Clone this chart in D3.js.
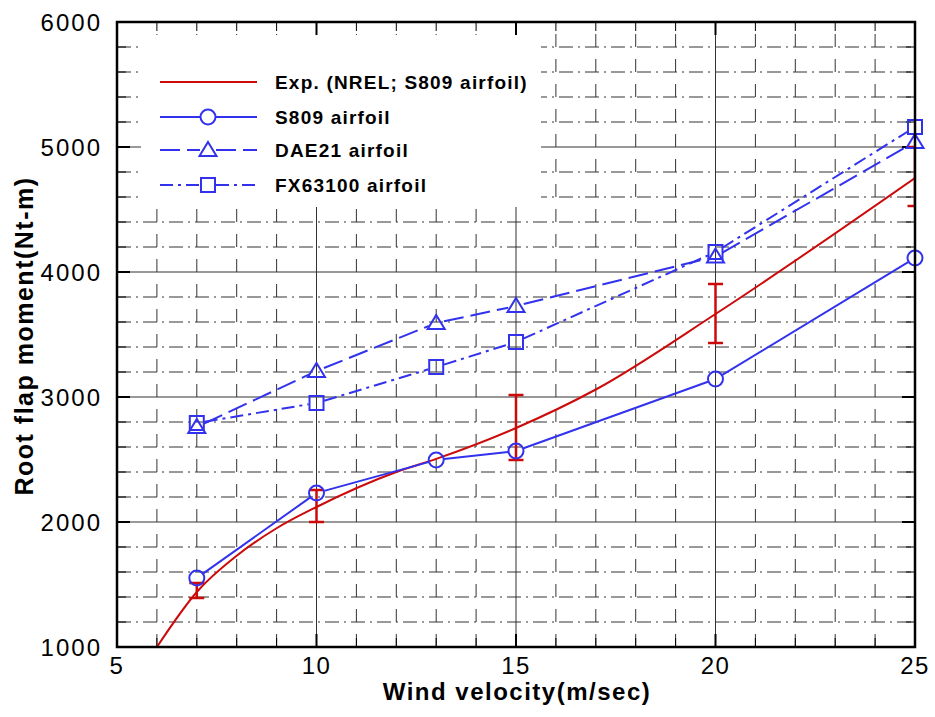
<!DOCTYPE html>
<html lang="en">

<head>
    <meta charset="UTF-8">
    <title>Root flap moment</title>
    <script src="https://d3js.org/d3.v7.min.js"></script>
    <style>
        body { margin: 0; background: #fff; }
        text { font-family: "Liberation Sans", Arial, sans-serif; }
    </style>
</head>

<body>
    <script>
        var width = 935, height = 717;

        // data
        var velocities = [7, 10, 13, 15, 20, 25];
        var s809 = [1552, 2232, 2496, 2568, 3144, 4112];
        var dae21 = [2760, 3208, 3592, 3728, 4124, 5040];
        var fx63100 = [2792, 2952, 3240, 3440, 4160, 5160];

        // experimental curve (NREL)
        var expV = [6, 7, 8, 9, 10, 12, 13, 15, 17, 20, 25];
        var expM = [1000, 1440, 1730, 1950, 2120, 2400, 2505, 2752, 3060, 3664, 4752];
        // error bars
        var errV = [7, 10, 15, 20, 25];
        var errLow = [1392, 2000, 2496, 3432, 4528];
        var errHigh = [1512, 2256, 3016, 3904, 5000];

        var xTicks = [5, 10, 15, 20, 25];
        var yTicks = [1000, 2000, 3000, 4000, 5000, 6000];

        var legendLabels = ['Exp. (NREL; S809 airfoil)', 'S809 airfoil', 'DAE21 airfoil', 'FX63100 airfoil'];

        var red = '#cc0a0a', blue = '#3232ee';
        var pL = 117, pT = 22, pR = 915, pB = 647;

        var svg = d3.select('body').append('svg').attr('width', width).attr('height', height);

        var x = d3.scaleLinear().domain([5, 25]).range([pL, pR]);
        var y = d3.scaleLinear().domain([1000, 6000]).range([pB, pT]);

        svg.append('clipPath').attr('id', 'plot')
            .append('rect').attr('x', pL).attr('y', pT).attr('width', pR - pL).attr('height', pB - pT);

        // grid: minor x every 1, minor y every 200
        var g = svg.append('g');
        var minorX = d3.range(6, 25).filter(function (d) { return d % 5 != 0 });
        var minorY = d3.range(1200, 6000, 200).filter(function (d) { return d % 1000 != 0 });
        g.selectAll('.mx').data(minorX).join('line')
            .attr('x1', x).attr('x2', x).attr('y1', pB).attr('y2', pT)
            .attr('stroke', '#333').attr('stroke-width', 1).attr('stroke-dasharray', '13,12');
        g.selectAll('.my').data(minorY).join('line')
            .attr('x1', pL).attr('x2', pR).attr('y1', y).attr('y2', y)
            .attr('stroke', '#333').attr('stroke-width', 1).attr('stroke-dasharray', '14,5,2,5');
        g.selectAll('.Mx').data([10, 15, 20]).join('line')
            .attr('x1', x).attr('x2', x).attr('y1', pB).attr('y2', pT)
            .attr('stroke', '#333').attr('stroke-width', 1);
        g.selectAll('.My').data([2000, 3000, 4000, 5000]).join('line')
            .attr('x1', pL).attr('x2', pR).attr('y1', y).attr('y2', y)
            .attr('stroke', '#333').attr('stroke-width', 1);

        // legend background hides the grid
        svg.append('rect').attr('x', 141).attr('y', 35).attr('width', 400).attr('height', 172).attr('fill', '#fff');

        // ticks
        var ticks = svg.append('g').attr('stroke', '#000');
        d3.range(6, 25).forEach(function (v) {
            var major = v % 5 == 0, len = major ? 13 : 9;
            ticks.append('line').attr('x1', x(v)).attr('x2', x(v)).attr('y1', pT).attr('y2', pT + len).attr('stroke-width', major ? 2 : 1);
            ticks.append('line').attr('x1', x(v)).attr('x2', x(v)).attr('y1', pB).attr('y2', pB - len).attr('stroke-width', major ? 2 : 1);
        });
        d3.range(1200, 6000, 200).forEach(function (v) {
            var major = v % 1000 == 0, len = major ? 13 : 9;
            ticks.append('line').attr('x1', pL).attr('x2', pL + len).attr('y1', y(v)).attr('y2', y(v)).attr('stroke-width', major ? 2 : 1);
            ticks.append('line').attr('x1', pR).attr('x2', pR - len).attr('y1', y(v)).attr('y2', y(v)).attr('stroke-width', major ? 2 : 1);
        });

        // experimental curve and error bars
        var clipped = svg.append('g').attr('clip-path', 'url(#plot)');
        var expData = expV.map(function (v, i) { return [v, expM[i]] });
        clipped.append('path').datum(expData)
            .attr('d', d3.line().x(function (d) { return x(d[0]) }).y(function (d) { return y(d[1]) }).curve(d3.curveMonotoneX))
            .attr('fill', 'none').attr('stroke', red).attr('stroke-width', 2);
        errV.forEach(function (v, i) {
            var cx = x(v);
            clipped.append('line').attr('x1', cx).attr('x2', cx).attr('y1', y(errLow[i])).attr('y2', y(errHigh[i]))
                .attr('stroke', red).attr('stroke-width', 2.5);
            [errLow[i], errHigh[i]].forEach(function (e) {
                clipped.append('line').attr('x1', cx - 7.5).attr('x2', cx + 7.5).attr('y1', y(e)).attr('y2', y(e))
                    .attr('stroke', red).attr('stroke-width', 2.5);
            });
        });

        // marker shapes
        function marker(sel, type, cx, cy) {
            var m;
            if (type == 'circle') {
                m = sel.append('circle').attr('cx', cx).attr('cy', cy).attr('r', 7.5);
            } else if (type == 'square') {
                m = sel.append('rect').attr('x', cx - 7).attr('y', cy - 7).attr('width', 14).attr('height', 14);
            } else {
                m = sel.append('path').attr('d', 'M' + cx + ',' + (cy - 8) + 'L' + (cx + 8.5) + ',' + (cy + 6) + 'L' + (cx - 8.5) + ',' + (cy + 6) + 'Z');
            }
            m.attr('fill', 'none').attr('stroke', blue).attr('stroke-width', 2);
        }

        // series lines broken at the markers
        function series(vals, type, dash) {
            var pts = velocities.map(function (v, i) { return [x(v), y(vals[i])] });
            var gs = svg.append('g');
            for (var i = 0; i < pts.length - 1; i++) {
                var a = pts[i], b = pts[i + 1];
                var dx = b[0] - a[0], dy = b[1] - a[1], L = Math.sqrt(dx * dx + dy * dy), r = 8;
                gs.append('line')
                    .attr('x1', a[0] + dx / L * r).attr('y1', a[1] + dy / L * r)
                    .attr('x2', b[0] - dx / L * r).attr('y2', b[1] - dy / L * r)
                    .attr('stroke', blue).attr('stroke-width', 2).attr('stroke-dasharray', dash);
            }
            pts.forEach(function (p) { marker(gs, type, p[0], p[1]) });
        }
        series(s809, 'circle', null);
        series(dae21, 'triangle', '20,7');
        series(fx63100, 'square', '13,5,3,5');

        // frame
        svg.append('rect').attr('x', pL).attr('y', pT).attr('width', pR - pL).attr('height', pB - pT)
            .attr('fill', 'none').attr('stroke', '#000').attr('stroke-width', 2.5);

        // tick labels
        svg.selectAll('.xl').data(xTicks).join('text')
            .attr('x', x).attr('y', 674).attr('text-anchor', 'middle')
            .attr('font-size', 24).attr('letter-spacing', 1.5).text(function (d) { return d });
        svg.selectAll('.yl').data(yTicks).join('text')
            .attr('x', 102).attr('y', function (d) { return y(d) + 8.5 }).attr('text-anchor', 'end')
            .attr('font-size', 24).attr('letter-spacing', 2).text(function (d) { return d });

        // axis titles
        svg.append('text').attr('x', 517).attr('y', 700).attr('text-anchor', 'middle')
            .attr('font-size', 24).attr('font-weight', 'bold').attr('letter-spacing', 1.5).text('Wind velocity(m/sec)');
        svg.append('text').attr('transform', 'translate(33,336) rotate(-90)').attr('text-anchor', 'middle')
            .attr('font-size', 25).attr('font-weight', 'bold').attr('letter-spacing', 1.5).text('Root flap moment(Nt-m)');

        // legend
        var rows = [82, 117, 150, 185];
        var lg = svg.append('g');
        var styles = [
            { color: red, dash: null, type: null },
            { color: blue, dash: null, type: 'circle' },
            { color: blue, dash: '20,7', type: 'triangle' },
            { color: blue, dash: '13,5,3,5', type: 'square' }
        ];
        styles.forEach(function (s, i) {
            var ly = rows[i];
            if (s.type) {
                lg.append('line').attr('x1', 160).attr('x2', 200).attr('y1', ly).attr('y2', ly)
                    .attr('stroke', s.color).attr('stroke-width', 2).attr('stroke-dasharray', s.dash);
                lg.append('line').attr('x1', 216).attr('x2', 257).attr('y1', ly).attr('y2', ly)
                    .attr('stroke', s.color).attr('stroke-width', 2).attr('stroke-dasharray', s.dash);
                marker(lg, s.type, 208, ly);
            } else {
                lg.append('line').attr('x1', 160).attr('x2', 257).attr('y1', ly).attr('y2', ly)
                    .attr('stroke', s.color).attr('stroke-width', 2);
            }
            lg.append('text').attr('x', 275).attr('y', ly + 7).attr('font-size', 19).attr('font-weight', 'bold')
                .attr('letter-spacing', 1.2).text(legendLabels[i]);
        });
    </script>
</body>

</html>
